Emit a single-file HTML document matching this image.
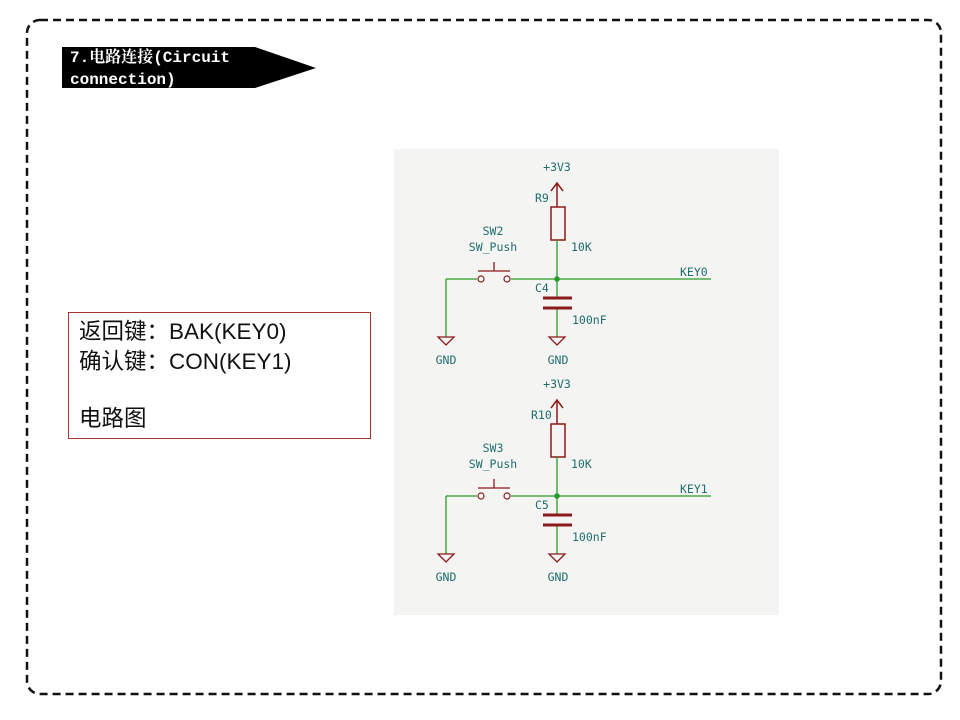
<!DOCTYPE html>
<html><head><meta charset="utf-8"><style>
html,body{margin:0;padding:0;background:#fff;width:960px;height:720px;overflow:hidden}
svg{display:block}
.s{font-family:"DejaVu Sans Mono","Liberation Mono",monospace;font-size:11.5px;fill:#1f6e6e}
</style></head><body>
<svg width="960" height="720" viewBox="0 0 960 720" xmlns="http://www.w3.org/2000/svg">
<rect x="27" y="20" width="914" height="674" rx="13" fill="none" stroke="#111" stroke-width="2.5" stroke-dasharray="8,5"/>
<polygon points="62,47 255,47 316,68 255,88 62,88" fill="#000"/>
<text x="70" y="62" font-family="'Liberation Mono','Noto Serif CJK SC',monospace" font-weight="bold" font-size="16" fill="#fff">7.电路连接(Circuit</text>
<text x="70" y="84" font-family="'Liberation Mono',monospace" font-weight="bold" font-size="16" fill="#fff">connection)</text>
<rect x="68.5" y="312.5" width="302" height="126" fill="#fff" stroke="#a33" stroke-width="1"/>
<g font-family="'Liberation Sans','Noto Sans CJK SC',sans-serif" font-size="22.5" fill="#111">
<text x="79" y="339">返回键：BAK(KEY0)</text>
<text x="79" y="369">确认键：CON(KEY1)</text>
<text x="79" y="426">电路图</text>
</g>
<rect x="394" y="149" width="385" height="466" fill="#f4f4f2"/>
<g id="c">
<text class="s" x="557" y="171" text-anchor="middle">+3V3</text>
<path d="M557 183 V207 M551 191 L557 183 L563 191" stroke="#8b1a1a" stroke-width="1.5" fill="none"/>
<rect x="551" y="207" width="14" height="33" fill="none" stroke="#8b1a1a" stroke-width="1.5"/>
<text class="s" x="535" y="202">R9</text>
<text class="s" x="571" y="251">10K</text>
<path d="M557 240 V279 M446 279 H477 M511 279 H711 M446 279 V337 M557 279 V298 M557 308 V337" stroke="#2b9a2b" stroke-width="1.3" fill="none"/>
<circle cx="557" cy="279" r="2.8" fill="#2b9a2b"/>
<circle cx="481" cy="279" r="3" fill="#fff" stroke="#8b1a1a" stroke-width="1.2"/>
<circle cx="507" cy="279" r="3" fill="#fff" stroke="#8b1a1a" stroke-width="1.2"/>
<path d="M478 271 H510 M494 271 V262" stroke="#8b1a1a" stroke-width="1.3"/>
<path d="M543 298 H572 M543 308 H572" stroke="#8b1a1a" stroke-width="3"/>
<path d="M438 337 H454 L446 345 Z M549 337 H565 L557 345 Z" fill="none" stroke="#8b1a1a" stroke-width="1.3"/>
<text class="s" x="493" y="235" text-anchor="middle">SW2</text>
<text class="s" x="493" y="251" text-anchor="middle">SW_Push</text>
<text class="s" x="535" y="292">C4</text>
<text class="s" x="572" y="324">100nF</text>
<text class="s" x="680" y="276">KEY0</text>
<text class="s" x="446" y="364" text-anchor="middle">GND</text>
<text class="s" x="558" y="364" text-anchor="middle">GND</text>
</g>
<g transform="translate(0,217)">
<text class="s" x="557" y="171" text-anchor="middle">+3V3</text>
<path d="M557 183 V207 M551 191 L557 183 L563 191" stroke="#8b1a1a" stroke-width="1.5" fill="none"/>
<rect x="551" y="207" width="14" height="33" fill="none" stroke="#8b1a1a" stroke-width="1.5"/>
<text class="s" x="531" y="202">R10</text>
<text class="s" x="571" y="251">10K</text>
<path d="M557 240 V279 M446 279 H477 M511 279 H711 M446 279 V337 M557 279 V298 M557 308 V337" stroke="#2b9a2b" stroke-width="1.3" fill="none"/>
<circle cx="557" cy="279" r="2.8" fill="#2b9a2b"/>
<circle cx="481" cy="279" r="3" fill="#fff" stroke="#8b1a1a" stroke-width="1.2"/>
<circle cx="507" cy="279" r="3" fill="#fff" stroke="#8b1a1a" stroke-width="1.2"/>
<path d="M478 271 H510 M494 271 V262" stroke="#8b1a1a" stroke-width="1.3"/>
<path d="M543 298 H572 M543 308 H572" stroke="#8b1a1a" stroke-width="3"/>
<path d="M438 337 H454 L446 345 Z M549 337 H565 L557 345 Z" fill="none" stroke="#8b1a1a" stroke-width="1.3"/>
<text class="s" x="493" y="235" text-anchor="middle">SW3</text>
<text class="s" x="493" y="251" text-anchor="middle">SW_Push</text>
<text class="s" x="535" y="292">C5</text>
<text class="s" x="572" y="324">100nF</text>
<text class="s" x="680" y="276">KEY1</text>
<text class="s" x="446" y="364" text-anchor="middle">GND</text>
<text class="s" x="558" y="364" text-anchor="middle">GND</text>
</g>
</svg>
</body></html>
